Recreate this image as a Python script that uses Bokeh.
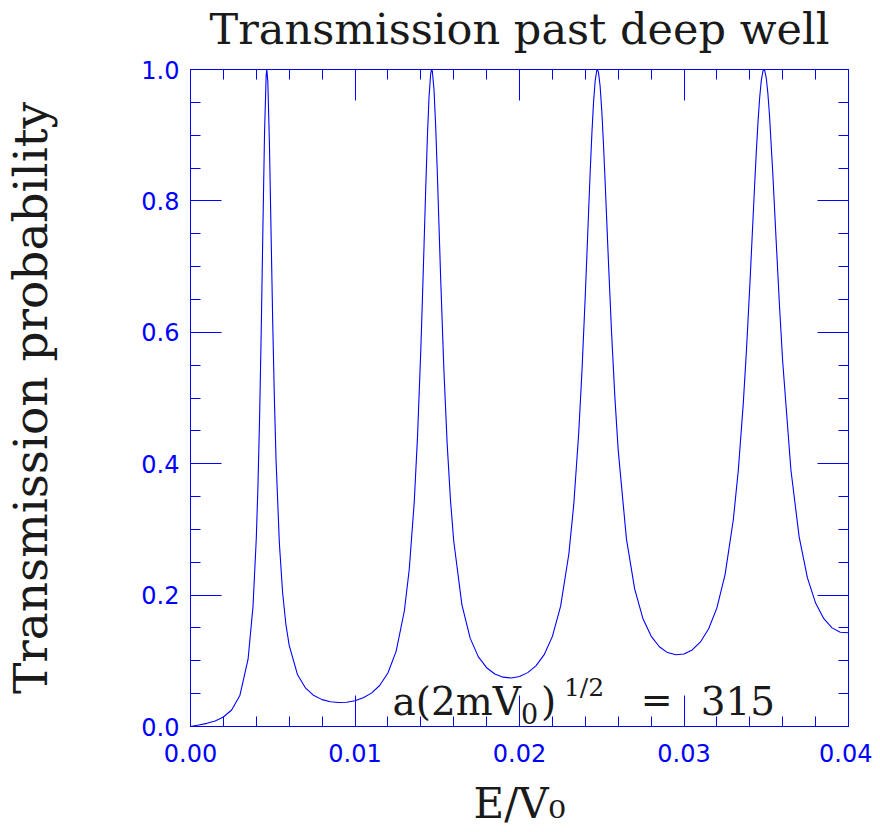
import math
from bokeh.plotting import figure
from bokeh.models import (Range1d, LinearAxis, SingleIntervalTicker,
                          NumeralTickFormatter, Label, ColumnDataSource)
from bokeh.embed import file_html
from bokeh.resources import INLINE

# ---- data ----
energy = [0, 0.0005, 0.001, 0.0015, 0.002, 0.0025, 0.003, 0.0035, 0.0038, 0.004,
          0.0041, 0.0042, 0.0043, 0.0044, 0.0045, 0.0046, 0.00464, 0.0047, 0.0048, 0.0049,
          0.005, 0.0051, 0.0052, 0.0054, 0.0056, 0.0058, 0.006,
          0.0065, 0.007, 0.0075, 0.008, 0.0085, 0.009, 0.0095, 0.01, 0.0105, 0.011,
          0.0115, 0.012, 0.0125, 0.013, 0.0133, 0.0136, 0.0138, 0.014,
          0.0141, 0.0142, 0.0143, 0.0144, 0.0145, 0.0146, 0.01466, 0.0147, 0.0148, 0.0149,
          0.015, 0.0151, 0.0152, 0.0154, 0.0156, 0.0158, 0.016,
          0.0165, 0.017, 0.0175, 0.018, 0.0185, 0.019, 0.0195, 0.02, 0.0205, 0.021,
          0.0215, 0.022, 0.0225, 0.023, 0.0233, 0.0236, 0.0238, 0.024,
          0.0241, 0.0242, 0.0243, 0.0244, 0.0245, 0.0246, 0.0247, 0.02473, 0.0248, 0.0249,
          0.025, 0.0251, 0.0252, 0.0254, 0.0256, 0.0258, 0.026,
          0.0265, 0.027, 0.0275, 0.028, 0.0285, 0.029, 0.0295, 0.03, 0.0305, 0.031,
          0.0315, 0.032, 0.0325, 0.033, 0.0333, 0.0336, 0.0338, 0.034,
          0.0342, 0.0343, 0.0344, 0.0345, 0.0346, 0.0347, 0.0348, 0.03485, 0.0349, 0.035,
          0.0351, 0.0352, 0.0354, 0.0356, 0.0358, 0.036,
          0.0365, 0.037, 0.0375, 0.038, 0.0385, 0.039, 0.0395, 0.04]

transmission = [0, 0.0022, 0.0048, 0.0085, 0.0145, 0.0251, 0.0471, 0.1024, 0.1828, 0.2865,
                0.3654, 0.4695, 0.6019, 0.7558, 0.9025, 0.9912, 1.0, 0.9819, 0.8851, 0.7483,
                0.6129, 0.4978, 0.4061, 0.2800, 0.2036, 0.1553, 0.1234,
                0.0792, 0.0583, 0.0471, 0.0409, 0.0376, 0.0365, 0.0370, 0.0393, 0.0437, 0.0508,
                0.0624, 0.0815, 0.1144, 0.1758, 0.2398, 0.3413, 0.4408, 0.5731,
                0.6514, 0.7351, 0.8194, 0.8969, 0.9580, 0.9936, 1.0, 0.9977, 0.9701, 0.9165,
                0.8458, 0.7672, 0.6880, 0.5449, 0.4315, 0.3462, 0.2828,
                0.1852, 0.1345, 0.1060, 0.0895, 0.0799, 0.0751, 0.0739, 0.0761, 0.0820, 0.0923,
                0.1093, 0.1372, 0.1831, 0.2626, 0.3384, 0.4468, 0.5423, 0.6568,
                0.7193, 0.7832, 0.8455, 0.9024, 0.9496, 0.9828, 0.9988, 1.0, 0.9960, 0.9748,
                0.9379, 0.8890, 0.8325, 0.7117, 0.5978, 0.5002, 0.4206,
                0.2856, 0.2094, 0.1645, 0.1376, 0.1214, 0.1125, 0.1091, 0.1104, 0.1166, 0.1287,
                0.1488, 0.1806, 0.2316, 0.3151, 0.3897, 0.4903, 0.5741, 0.6706,
                0.7751, 0.8272, 0.8765, 0.9207, 0.9571, 0.9834, 0.9977, 1.0, 0.9989, 0.9870,
                0.9632, 0.9293, 0.8408, 0.7406, 0.6428, 0.5552,
                0.3904, 0.2886, 0.2266, 0.1879, 0.1641, 0.1501, 0.1434, 0.1427]

x_limits = (0.0, 0.04)
y_limits = (0.0, 1.0)
x_major_step = 0.01
y_major_step = 0.2

title_text = "Transmission past deep well"
y_label_text = "Transmission probability"
x_label_text = "E/V\u2080"

# ---- styling / layout ----
BLUE = "#0000ff"
INK = "#1a1a1a"
SERIF = "DejaVu Serif"
SANS = "DejaVu Sans"

FL, FR, FT, FB = 189, 848, 68, 727   # frame edges in page pixels
W, H = 872, 830

p = figure(width=W, height=H,
           x_range=Range1d(*x_limits), y_range=Range1d(*y_limits),
           x_axis_type=None, y_axis_type=None,
           output_backend="svg", toolbar_location=None,
           min_border_left=FL, min_border_right=W - FR,
           min_border_top=FT, min_border_bottom=H - FB)
p.outline_line_color = BLUE
p.outline_line_alpha = 1.0
p.background_fill_color = "white"
p.border_fill_color = "white"


def style_axis(ax, show_labels):
    ax.axis_line_color = BLUE
    ax.major_tick_line_color = BLUE
    ax.minor_tick_line_color = BLUE
    ax.major_tick_in = 31
    ax.major_tick_out = 0
    ax.minor_tick_in = 10
    ax.minor_tick_out = 0
    ax.major_label_text_font = SANS
    if show_labels:
        ax.major_label_text_color = BLUE
        ax.major_label_text_font_size = "24px"
    else:
        ax.major_label_text_color = None
        ax.major_label_text_font_size = "0px"
        ax.major_label_standoff = 0
    ax.axis_label_text_font = SERIF
    ax.axis_label_text_font_style = "normal"
    ax.axis_label_text_color = INK


for side in ("below", "above"):
    ax = LinearAxis(ticker=SingleIntervalTicker(interval=x_major_step, num_minor_ticks=5),
                    formatter=NumeralTickFormatter(format="0.00"))
    style_axis(ax, side == "below")
    if side == "below":
        ax.major_label_standoff = 17
        ax.axis_label = x_label_text
        ax.axis_label_text_font_size = "42px"
        ax.axis_label_standoff = 14
    else:
        # the chart title sits above the top axis
        ax.axis_label = title_text
        ax.axis_label_text_font_size = "43px"
        ax.axis_label_standoff = 16
    p.add_layout(ax, side)

for side in ("left", "right"):
    ax = LinearAxis(ticker=SingleIntervalTicker(interval=y_major_step, num_minor_ticks=4),
                    formatter=NumeralTickFormatter(format="0.0"))
    style_axis(ax, side == "left")
    if side == "left":
        ax.major_label_standoff = 11
        ax.axis_label = y_label_text
        ax.axis_label_text_font_size = "47px"
        ax.axis_label_standoff = 80
    p.add_layout(ax, side)

src = ColumnDataSource(data=dict(e=energy, t=transmission))
p.line("e", "t", source=src, line_color=BLUE, line_width=1.1)


def dx(px):
    return x_limits[0] + (px - FL) / (FR - FL) * (x_limits[1] - x_limits[0])


def dy(py):
    return y_limits[0] + (FB - py) / (FB - FT) * (y_limits[1] - y_limits[0])


def add_text(text, px, py, size, align="left"):
    p.add_layout(Label(x=dx(px), y=dy(py), x_units="data", y_units="data",
                       text=text, text_font=SERIF, text_font_size=size,
                       text_color=INK, text_align=align,
                       text_baseline="alphabetic"))


# annotation  a(2mV_0)^{1/2} = 315  (baselines corrected for label offset)
add_text("a(2mV", 520, 702, "39px", align="right")
add_text("0", 520, 714, "27px")
add_text(")", 540, 702, "39px")
add_text("1/2", 563, 688, "25px")
add_text("=", 640, 700, "38px")
add_text("315", 700, 701, "39px")

open("out.html", "w").write(file_html(p, INLINE))
